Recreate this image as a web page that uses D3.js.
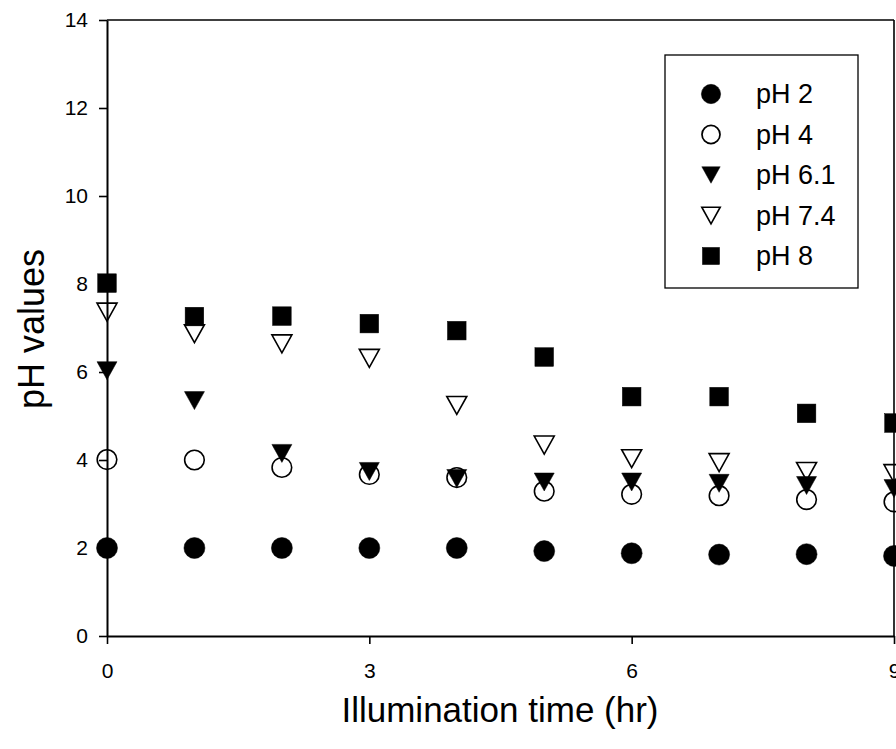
<!DOCTYPE html>
<html>
<head>
<meta charset="utf-8">
<script src="https://cdn.jsdelivr.net/npm/d3@7"></script>
<style>
  body { margin: 0; background: #fff; }
  text { font-family: "Liberation Sans", Arial, sans-serif; fill: #000; }
</style>
</head>
<body>
<div id="chart"></div>
<script>
// data
var times = [0, 1, 2, 3, 4, 5, 6, 7, 8, 9];
var ph2  = [2.00, 2.00, 2.00, 2.00, 2.00, 1.93, 1.88, 1.85, 1.86, 1.82];
var ph4  = [4.01, 4.00, 3.83, 3.67, 3.60, 3.29, 3.22, 3.19, 3.10, 3.05];
var ph61 = [6.03, 5.35, 4.15, 3.74, 3.58, 3.50, 3.50, 3.47, 3.42, 3.35];
var ph74 = [7.36, 6.87, 6.64, 6.31, 5.24, 4.34, 4.03, 3.94, 3.74, 3.69];
var ph8  = [8.02, 7.26, 7.27, 7.10, 6.94, 6.34, 5.44, 5.44, 5.06, 4.84];
var seriesNames = ["pH 2", "pH 4", "pH 6.1", "pH 7.4", "pH 8"];
var xTicks = [0, 3, 6, 9];
var yTicks = [0, 2, 4, 6, 8, 10, 12, 14];

var W = 896, H = 749;
var margin = {top: 20, right: 2, bottom: 113, left: 107};

var svg = d3.select("#chart")
  .append("svg")
    .attr("width", W)
    .attr("height", H);

var x = d3.scaleLinear().domain([0, 9]).range([margin.left, W - margin.right]);
var y = d3.scaleLinear().domain([0, 14]).range([H - margin.bottom, margin.top]);

// frame on top and right
svg.append("line")
  .attr("x1", x(0)).attr("x2", x(9))
  .attr("y1", y(14)).attr("y2", y(14))
  .attr("stroke", "#000").attr("stroke-width", 1.6);
svg.append("line")
  .attr("x1", x(9)).attr("x2", x(9))
  .attr("y1", y(14)).attr("y2", y(0))
  .attr("stroke", "#000").attr("stroke-width", 1.6);

// axes
var xAxis = svg.append("g")
  .attr("transform", "translate(0," + y(0) + ")")
  .call(d3.axisBottom(x).tickValues(xTicks).tickSize(8).tickPadding(19).tickSizeOuter(0));
var yAxis = svg.append("g")
  .attr("transform", "translate(" + x(0) + ",0)")
  .call(d3.axisLeft(y).tickValues(yTicks).tickSize(8).tickPadding(11).tickSizeOuter(0));

[xAxis, yAxis].forEach(function(g) {
  g.select(".domain").attr("stroke", "#000").attr("stroke-width", 2);
  g.selectAll(".tick line").attr("stroke", "#000").attr("stroke-width", 1.6);
  g.selectAll(".tick text")
    .style("font-family", "'Liberation Sans', Arial, sans-serif")
    .style("font-size", "21px")
    .attr("fill", "#000");
});

// axis titles
svg.append("text")
  .attr("x", 500)
  .attr("y", 722)
  .attr("text-anchor", "middle")
  .style("font-size", "35px")
  .text("Illumination time (hr)");
svg.append("text")
  .attr("transform", "translate(44,329) rotate(-90)")
  .attr("text-anchor", "middle")
  .style("font-size", "36px")
  .text("pH values");

// symbol shapes
var tri = "M-10,-9L10,-9L0,9Z";
var sym = [
  {kind: "circle", fill: "#000"},
  {kind: "circle", fill: "none"},
  {kind: "tri", fill: "#000"},
  {kind: "tri", fill: "none"},
  {kind: "square", fill: "#000"}
];
function drawSym(g, s, scale) {
  if (s.kind === "circle") {
    g.append("circle").attr("r", (s.fill === "none" ? 9.8 : 10.5) * scale);
  } else if (s.kind === "tri") {
    g.append("path").attr("d", tri).attr("transform", "scale(" + scale + ")");
  } else {
    g.append("rect").attr("x", -9.3 * scale).attr("y", -9.3 * scale)
      .attr("width", 18.6 * scale).attr("height", 18.6 * scale);
  }
  g.selectAll("*")
    .attr("fill", s.fill === "none" ? "none" : "#000")
    .attr("stroke", "#000")
    .attr("stroke-width", s.fill === "none" ? 1.6 / scale : 0.5);
}

var allSeries = [ph2, ph4, ph61, ph74, ph8];
allSeries.forEach(function(vals, i) {
  svg.append("g").selectAll("g")
    .data(times.map(function(t, j) { return {t: t, v: vals[j]}; }))
    .enter().append("g")
      .attr("transform", function(d) { return "translate(" + x(d.t) + "," + y(d.v) + ")"; })
      .each(function() { drawSym(d3.select(this), sym[i], 1); });
});

// legend
var legend = svg.append("g");
legend.append("rect")
  .attr("x", 665).attr("y", 55)
  .attr("width", 193).attr("height", 233)
  .attr("fill", "#fff").attr("stroke", "#000").attr("stroke-width", 1.3);
seriesNames.forEach(function(name, i) {
  var row = legend.append("g").attr("transform", "translate(0," + (94 + i * 40.5) + ")");
  var sg = row.append("g").attr("transform", "translate(711,0)");
  drawSym(sg, sym[i], 0.92);
  row.append("text")
    .attr("x", 756)
    .attr("dy", "0.35em")
    .style("font-size", "27px")
    .text(name);
});
</script>
</body>
</html>
